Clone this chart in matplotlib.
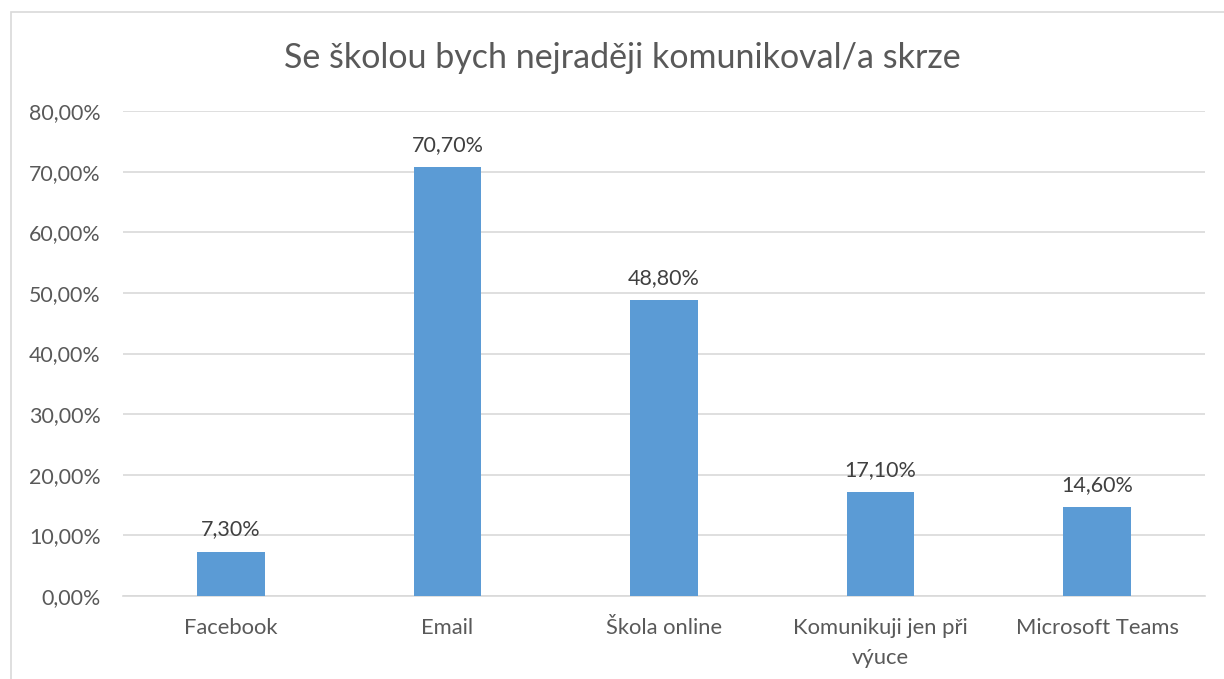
import matplotlib
matplotlib.use("Agg")
import matplotlib.pyplot as plt
from matplotlib.patches import Rectangle
from matplotlib.ticker import FuncFormatter

categories = ["Facebook", "Email", "Škola online", "Komunikuji jen při\nvýuce", "Microsoft Teams"]
values = [7.30, 70.70, 48.80, 17.10, 14.60]
title = "Se školou bych nejraději komunikoval/a skrze"

plt.rcParams['font.family'] = ['Lato', 'DejaVu Sans']
W, H = 1224, 679
fig = plt.figure(figsize=(W/100, H/100), dpi=100)
fig.patch.set_facecolor("white")

# outer chart border
fig.patches.append(Rectangle((10.5/W, -0.2), 2.0, (H-12)/H + 0.2, transform=fig.transFigure,
                             fill=False, edgecolor="#D9D9D9", linewidth=1.2))

left, right, bottom, top = 122.75, 1205.25, 596, 111
ax = fig.add_axes([left/W, (H-bottom)/H, (right-left)/W, (bottom-top)/H])

x = list(range(len(categories)))
ax.bar(x, values, width=0.314, color="#5B9BD5", zorder=3)
ax.set_xlim(-0.5, len(categories)-0.5)
ax.set_ylim(0, 80)
ax.set_yticks(range(0, 81, 10))
ax.yaxis.set_major_formatter(FuncFormatter(lambda v, p: f"{v:.2f}".replace(".", ",") + "%"))
ax.set_xticks(x)
ax.set_xticklabels(categories, linespacing=1.6)
ax.grid(axis="y", color="#D9D9D9", linewidth=1.2, zorder=0)
for s in ["top", "right", "left"]:
    ax.spines[s].set_visible(False)
ax.spines["bottom"].set_color("#D9D9D9")
ax.spines["bottom"].set_linewidth(1.2)
ax.tick_params(axis="y", length=0, pad=16, labelsize=15.4, labelcolor="#595959")
ax.tick_params(axis="x", length=0, pad=16, labelsize=15.8, labelcolor="#595959")

for xi, v in zip(x, values):
    ax.annotate(f"{v:.2f}".replace(".", ",") + "%", (xi, v), xytext=(0, 9),
                textcoords="offset points", ha="center", va="bottom",
                fontsize=15.5, color="#404040")

fig.text(622.5/W, 1 - 58/H, title, ha="center", va="center", fontsize=24.5, color="#595959")

fig.savefig("out.png", dpi=100)
